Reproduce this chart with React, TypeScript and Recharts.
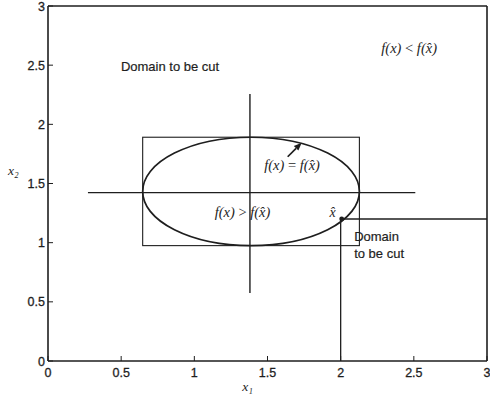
import React from "react";
import {
  ComposedChart,
  XAxis,
  YAxis,
  ReferenceLine,
  ReferenceArea,
  ReferenceDot,
  Scatter,
} from "recharts";

// axis ticks
const xTicks = [0, 0.5, 1, 1.5, 2, 2.5, 3];
const yTicks = [0, 0.5, 1, 1.5, 2, 2.5, 3];
const xTickLabels = ["0", "0.5", "1", "1.5", "2", "2.5", "3"];
const yTickLabels = ["0", "0.5", "1", "1.5", "2", "2.5", "3"];

// bounding box of the level set (the ellipse is inscribed in it)
const box = { x1: 0.647, x2: 2.128, y1: 0.975, y2: 1.891 };

// cross through the ellipse centre
const crossH = [
  { x: 0.273, y: 1.423 },
  { x: 2.51, y: 1.423 },
];
const crossV = [
  { x: 1.38, y: 0.575 },
  { x: 1.38, y: 2.257 },
];

// current point x-hat and the cut lines leaving it
const xHat = [{ x: 2.007, y: 1.2 }];
const cutV = [
  { x: 2.0, y: 0 },
  { x: 2.0, y: 1.2 },
];
const cutH = [
  { x: 2.0, y: 1.2 },
  { x: 3, y: 1.2 },
];

// arrow pointing at the contour
const arrow = [
  { x: 1.638, y: 1.726 },
  { x: 1.734, y: 1.845 },
];

// text notes (data coordinates)
const sansNotes = [
  { x: 0.834, y: 2.485, text: "Domain to be cut", anchor: "middle" },
  { x: 2.092, y: 1.048, text: "Domain", anchor: "start" },
  { x: 2.092, y: 0.912, text: "to be cut", anchor: "start" },
];
const mathNotes = [
  { x: 2.468, y: 2.646, lhs: "f(x)", op: "<", rhs: "f(x\u0302)" },
  { x: 1.668, y: 1.657, lhs: "f(x)", op: "=", rhs: "f(x\u0302)" },
  { x: 1.329, y: 1.26, lhs: "f(x)", op: ">", rhs: "f(x\u0302)" },
];
const pointNotes = [{ x: 1.945, y: 1.258, text: "x\u0302" }];

const INK = "#1e1e1e";
const SANS = "'Liberation Sans', Arial, sans-serif";
const SERIF = "'Liberation Serif', 'Times New Roman', serif";
const TICK = 5;

const BottomTick = (props: any) => {
  const { x, y, index } = props;
  return (
    <g>
      <line x1={x} y1={y} x2={x} y2={y - TICK} stroke={INK} strokeWidth={1} />
      <text
        x={x}
        y={y + 16}
        textAnchor="middle"
        fontFamily={SANS}
        fontSize={12.5}
        fill={INK}
        stroke={INK}
        strokeWidth={0.3}
      >
        {xTickLabels[index]}
      </text>
    </g>
  );
};

const LeftTick = (props: any) => {
  const { x, y, index } = props;
  return (
    <g>
      <line x1={x} y1={y} x2={x + TICK} y2={y} stroke={INK} strokeWidth={1} />
      <text
        x={x - 3}
        y={y + 4.5}
        textAnchor="end"
        fontFamily={SANS}
        fontSize={12.5}
        fill={INK}
        stroke={INK}
        strokeWidth={0.3}
      >
        {yTickLabels[index]}
      </text>
    </g>
  );
};

const TopTick = (props: any) => {
  const { x, y } = props;
  return <line x1={x} y1={y} x2={x} y2={y + TICK} stroke={INK} strokeWidth={1} />;
};

const RightTick = (props: any) => {
  const { x, y } = props;
  return <line x1={x} y1={y} x2={x - TICK} y2={y} stroke={INK} strokeWidth={1} />;
};

const BoxWithEllipse = (props: any) => {
  const { x, y, width, height } = props;
  return (
    <g>
      <rect x={x} y={y} width={width} height={height} fill="none" stroke={INK} strokeWidth={1.1} />
      <ellipse
        cx={x + width / 2}
        cy={y + height / 2}
        rx={width / 2}
        ry={height / 2}
        fill="none"
        stroke={INK}
        strokeWidth={1.7}
      />
    </g>
  );
};

const ArrowShape = (props: any) => {
  const { x1, y1, x2, y2 } = props;
  const a = Math.atan2(y2 - y1, x2 - x1);
  const len = 8;
  const w = 3.2;
  const bx = x2 - len * Math.cos(a);
  const by = y2 - len * Math.sin(a);
  const px = -Math.sin(a) * w;
  const py = Math.cos(a) * w;
  return (
    <g>
      <line x1={x1} y1={y1} x2={bx} y2={by} stroke={INK} strokeWidth={1.7} />
      <polygon
        points={`${x2},${y2} ${bx + px},${by + py} ${bx - px},${by - py}`}
        fill={INK}
      />
    </g>
  );
};

const App = () => {
  return (
    <div style={{ position: "absolute", left: 0, top: 0, background: "#fff" }}>
      <ComposedChart
        width={490}
        height={396}
        margin={{ top: 5, right: 2, bottom: 0, left: 0 }}
      >
        <XAxis
          xAxisId="b"
          type="number"
          dataKey="x"
          domain={[0, 3]}
          ticks={xTicks}
          interval={0}
          allowDataOverflow
          height={35}
          tickSize={0}
          tickMargin={0}
          tickLine={false}
          axisLine={{ stroke: INK, strokeWidth: 1.6 }}
          tick={<BottomTick />}
          label={{
            value: "x\u2081",
            position: "insideBottom",
            offset: 5,
            dx: -20,
            fontFamily: SERIF,
            fontStyle: "italic",
            fontSize: 13.5,
            fill: INK,
          }}
        />
        <XAxis
          xAxisId="t"
          orientation="top"
          type="number"
          domain={[0, 3]}
          ticks={xTicks}
          interval={0}
          height={1}
          tickSize={0}
          tickMargin={0}
          tickLine={false}
          axisLine={{ stroke: INK, strokeWidth: 1.6 }}
          tick={<TopTick />}
        />
        <YAxis
          yAxisId="l"
          type="number"
          dataKey="y"
          domain={[0, 3]}
          ticks={yTicks}
          interval={0}
          allowDataOverflow
          width={48}
          tickSize={0}
          tickMargin={0}
          tickLine={false}
          axisLine={{ stroke: INK, strokeWidth: 1.6 }}
          tick={<LeftTick />}
          label={{
            value: "x\u2082",
            position: "insideLeft",
            offset: 8,
            dy: -13,
            fontFamily: SERIF,
            fontStyle: "italic",
            fontSize: 13.5,
            fill: INK,
          }}
        />
        <YAxis
          yAxisId="r"
          orientation="right"
          type="number"
          domain={[0, 3]}
          ticks={yTicks}
          interval={0}
          width={1}
          tickSize={0}
          tickMargin={0}
          tickLine={false}
          axisLine={{ stroke: INK, strokeWidth: 1.6 }}
          tick={<RightTick />}
        />

        <ReferenceArea
          xAxisId="b"
          yAxisId="l"
          x1={box.x1}
          x2={box.x2}
          y1={box.y1}
          y2={box.y2}
          shape={<BoxWithEllipse />}
        />

        <ReferenceLine xAxisId="b" yAxisId="l" segment={crossH} stroke={INK} strokeWidth={1.4} />
        <ReferenceLine xAxisId="b" yAxisId="l" segment={crossV} stroke={INK} strokeWidth={1.4} />
        <ReferenceLine xAxisId="b" yAxisId="l" segment={cutV} stroke={INK} strokeWidth={1.3} />
        <ReferenceLine xAxisId="b" yAxisId="l" segment={cutH} stroke={INK} strokeWidth={1.3} />
        <ReferenceLine
          xAxisId="b"
          yAxisId="l"
          segment={arrow}
          shape={(p: any) => <ArrowShape {...p} />}
        />

        <Scatter
          xAxisId="b"
          yAxisId="l"
          data={xHat}
          isAnimationActive={false}
          shape={(p: any) => <circle cx={p.cx} cy={p.cy} r={2.4} fill={INK} />}
        />

        {sansNotes.map((n, i) => (
          <ReferenceDot
            key={"s" + i}
            xAxisId="b"
            yAxisId="l"
            x={n.x}
            y={n.y}
            r={0}
            shape={(p: any) => (
              <text
                x={p.cx}
                y={p.cy + 4.5}
                textAnchor={n.anchor as any}
                fontFamily={SANS}
                fontSize={13}
                fill={INK}
                stroke={INK}
                strokeWidth={0.2}
              >
                {n.text}
              </text>
            )}
          />
        ))}
        {mathNotes.map((n, i) => (
          <ReferenceDot
            key={"m" + i}
            xAxisId="b"
            yAxisId="l"
            x={n.x}
            y={n.y}
            r={0}
            shape={(p: any) => (
              <text
                x={p.cx}
                y={p.cy + 5}
                textAnchor="middle"
                fontFamily={SERIF}
                fontSize={14.5}
                fill={INK}
              >
                <tspan fontStyle="italic">{n.lhs}</tspan>
                <tspan> {n.op} </tspan>
                <tspan fontStyle="italic">{n.rhs}</tspan>
              </text>
            )}
          />
        ))}
        {pointNotes.map((n, i) => (
          <ReferenceDot
            key={"p" + i}
            xAxisId="b"
            yAxisId="l"
            x={n.x}
            y={n.y}
            r={0}
            shape={(p: any) => (
              <text
                x={p.cx}
                y={p.cy + 4.5}
                textAnchor="middle"
                fontFamily={SERIF}
                fontStyle="italic"
                fontSize={14}
                fill={INK}
              >
                {n.text}
              </text>
            )}
          />
        ))}
      </ComposedChart>
    </div>
  );
};

export default App;
